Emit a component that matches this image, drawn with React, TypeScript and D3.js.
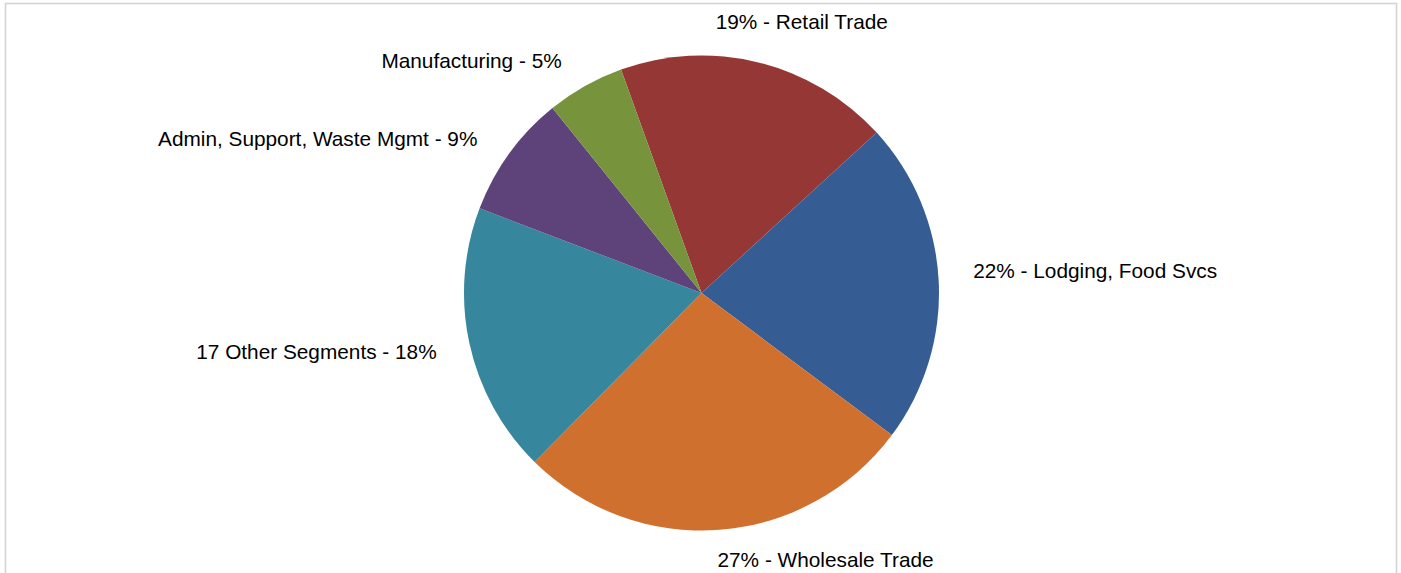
import React from "react";
import * as d3 from "d3";

const categories = [
  "Retail Trade",
  "Lodging, Food Svcs",
  "Wholesale Trade",
  "17 Other Segments",
  "Admin, Support, Waste Mgmt",
  "Manufacturing",
];
const values = [18.7, 22.0, 27.2, 18.4, 8.4, 5.3];
const labelTexts = [
  "19% - Retail Trade",
  "22% - Lodging, Food Svcs",
  "27% - Wholesale Trade",
  "17 Other Segments - 18%",
  "Admin, Support, Waste Mgmt - 9%",
  "Manufacturing - 5%",
];
const colors = ["#953735", "#355d94", "#d0702e", "#36869e", "#5d4379", "#77933c"];

// layout-only tweaks for label placement (Excel best-fit style)
const labelNudge: [number, number][] = [
  [-51, -7],
  [0, -9],
  [-4.5, -5],
  [1, 1],
  [-4, 6],
  [-6.5, 5],
];

const W = 1401;
const H = 573;
const cx = 701.5;
const cy = 293;
const r = 237.5;
const labelR = 272;
const startDeg = -19.8;

export default function App() {
  const total = d3.sum(values);
  const start = (startDeg * Math.PI) / 180;
  const pie = d3
    .pie<number>()
    .sort(null)
    .value((d) => d)
    .startAngle(start)
    .endAngle(start + 2 * Math.PI);
  const arcs = pie(values);
  const arc = d3.arc<d3.PieArcDatum<number>>().innerRadius(0).outerRadius(r);
  const fontSize = 20.8;

  return (
    <svg
      width={W}
      height={H}
      style={{ position: "absolute", left: 0, top: 0, background: "#fff" }}
      fontFamily="'Liberation Sans', Arial, sans-serif"
    >
      <rect x={5.5} y={3.5} width={1391} height={H + 20} fill="#fff" stroke="#d4d4d4" strokeWidth={1.6} />
      <g transform={`translate(${cx},${cy})`}>
        {arcs.map((a, i) => (
          <path key={categories[i]} d={arc(a) || ""} fill={colors[i]} />
        ))}
      </g>
      {arcs.map((a, i) => {
        const mid = (a.startAngle + a.endAngle) / 2;
        const x = cx + labelR * Math.sin(mid) + labelNudge[i][0];
        const y = cy - labelR * Math.cos(mid) + labelNudge[i][1];
        const anchor = Math.sin(mid) >= 0 ? "start" : "end";
        return (
          <text
            key={"l" + i}
            x={x}
            y={y}
            dy="0.35em"
            textAnchor={anchor}
            fontSize={fontSize}
            fill="#000"
          >
            {labelTexts[i]}
          </text>
        );
      })}
      <desc>{`total ${total}`}</desc>
    </svg>
  );
}
